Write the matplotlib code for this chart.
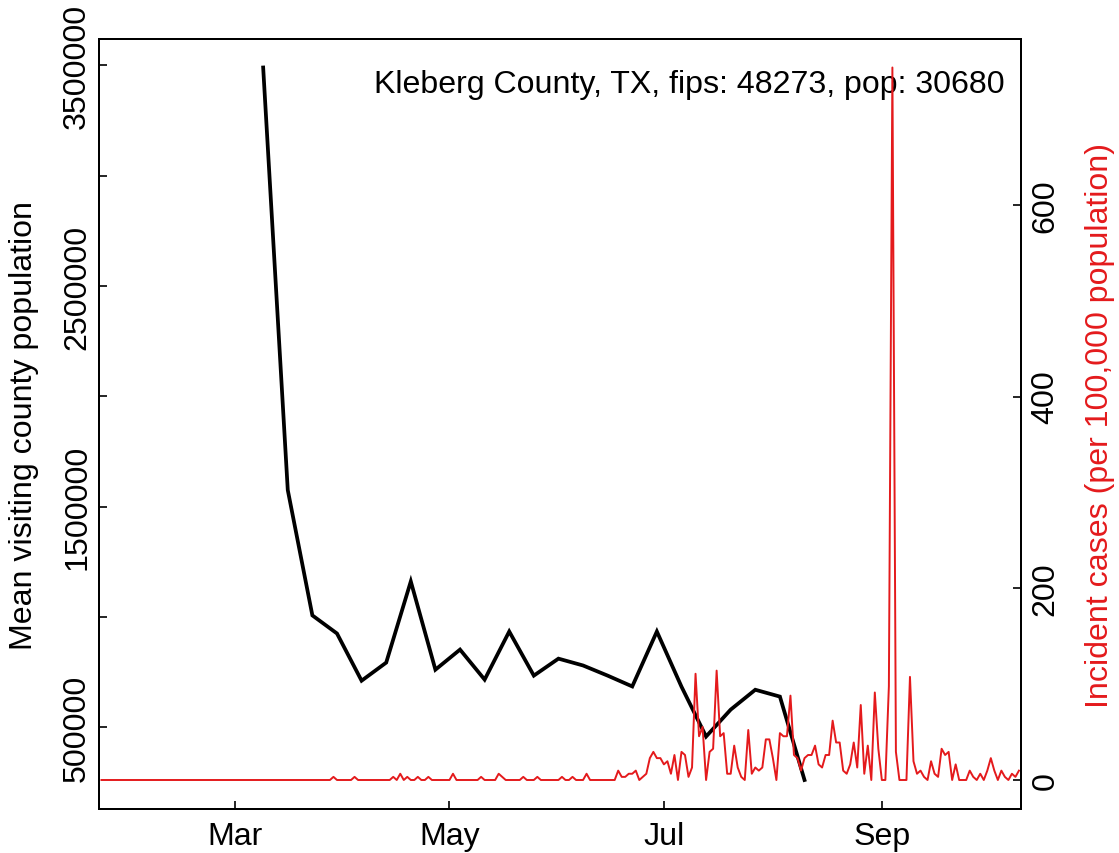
import pandas as pd
import matplotlib
matplotlib.use("Agg")
import matplotlib.pyplot as plt

plt.rcParams['font.family'] = ['Liberation Sans', 'DejaVu Sans']

county_label = "Kleberg County, TX, fips: 48273, pop: 30680"
county_pop = 30680

# weekly mean visiting county population (black line), starts 2020-03-09
visit_start = "2020-03-09"
visit_pop = [3490000, 1575000, 1007000, 925000, 711000, 793000, 1161000, 761000,
             852000, 716000, 934000, 734000, 811000, 780000, 734000, 685000,
             934000, 684000, 458000, 580000, 670000, 639000, 261000]

# daily new cases (red line), 2020-01-23 .. 2020-10-10
case_start = "2020-01-23"
cases_jan = [0, 0, 0, 0, 0, 0, 0, 0, 0]
cases_feb = [0, 0, 0, 0, 0, 0, 0, 0, 0, 0, 0, 0, 0, 0, 0, 0, 0, 0, 0, 0,
             0, 0, 0, 0, 0, 0, 0, 0, 0]
cases_mar = [0, 0, 0, 0, 0, 0, 0, 0, 0, 0, 0, 0, 0, 0, 0, 0, 0, 0, 0, 0,
             0, 0, 0, 0, 0, 0, 0, 0, 1, 0, 0]
cases_apr = [0, 0, 0, 1, 0, 0, 0, 0, 0, 0, 0, 0, 0, 0, 1, 0, 2, 0, 1, 0,
             0, 1, 0, 0, 1, 0, 0, 0, 0, 0]
cases_may = [0, 2, 0, 0, 0, 0, 0, 0, 0, 1, 0, 0, 0, 0, 2, 1, 0, 0, 0, 0,
             0, 1, 0, 0, 0, 1, 0, 0, 0, 0, 0]
cases_jun = [0, 1, 0, 0, 1, 0, 0, 0, 2, 0, 0, 0, 0, 0, 0, 0, 0, 3, 1, 1,
             2, 2, 3, 0, 1, 2, 7, 9, 7, 7]
cases_jul = [5, 6, 2, 8, 0, 9, 8, 1, 4, 34, 14, 17, 0, 9, 10, 35, 14, 15, 2, 2,
             11, 4, 1, 0, 16, 2, 4, 3, 4, 13, 13]
cases_aug = [7, 0, 15, 14, 14, 27, 8, 7, 3, 7, 8, 8, 11, 5, 4, 8, 8, 19, 12, 12,
             3, 2, 5, 12, 4, 24, 2, 11, 0, 28, 10]
cases_sep = [0, 0, 30, 228, 9, 0, 0, 0, 33, 6, 2, 3, 1, 0, 6, 2, 1, 10, 8, 9,
             0, 5, 0, 0, 0, 3, 1, 0, 2, 0]
cases_oct = [3, 7, 3, 0, 3, 1, 0, 2, 1, 3]

left_ticks = [500000, 1000000, 1500000, 2000000, 2500000, 3000000, 3500000]
left_labels = ["500000", "", "1500000", "", "2500000", "", "3500000"]
right_ticks = [0, 200, 400, 600]
x_ticks = ["2020-03-01", "2020-05-01", "2020-07-01", "2020-09-01"]
x_labels = ["Mar", "May", "Jul", "Sep"]

red = "#E41A1C"
fs = 23.1

cases = (cases_jan + cases_feb + cases_mar + cases_apr + cases_may + cases_jun
         + cases_jul + cases_aug + cases_sep + cases_oct)
case_dates = pd.date_range(case_start, periods=len(cases), freq="D")
incidence = pd.Series(cases, index=case_dates) * 100000 / county_pop
visit_dates = pd.date_range(visit_start, periods=len(visit_pop), freq="7D")


def r_range(vals):
    # base-R style 4% padding
    lo, hi = min(vals), max(vals)
    pad = 0.04 * (hi - lo)
    return lo - pad, hi + pad


W, H = 1119, 854
fig = plt.figure(figsize=(W / 100, H / 100), dpi=100)
ax = fig.add_axes([99 / W, (H - 809.5) / H, 921.7 / W, 769.5 / H])

ax.plot(visit_dates, visit_pop, color="black", lw=2.7, solid_joinstyle="miter")
ax.set_ylim(*r_range(visit_pop))
ax.set_yticks(left_ticks)
ax.set_yticklabels(left_labels)

mar1 = pd.Timestamp("2020-03-01")
ax.set_xlim(mar1 - pd.Timedelta(days=38.7), mar1 + pd.Timedelta(days=223.5))
ax.set_xticks(pd.to_datetime(x_ticks))
ax.set_xticklabels(x_labels)

ax.text(1005 / W, (H - 93) / H, county_label, transform=fig.transFigure,
        ha="right", va="baseline", fontsize=fs)

ax2 = ax.twinx()
ax2.plot(incidence.index, incidence.values, color=red, lw=1.4)
ax2.set_ylim(*r_range(incidence.values))
ax2.set_yticks(right_ticks)

for a in (ax, ax2):
    for s in a.spines.values():
        s.set_linewidth(1.4)
    a.tick_params(direction="in", length=5.8, width=1.2, labelsize=fs)

ax.tick_params(axis="x", pad=9)
ax.tick_params(axis="y", pad=5, labelrotation=90)
ax2.tick_params(axis="y", pad=7, labelrotation=90)
for t in ax.get_yticklabels() + ax2.get_yticklabels():
    t.set_va("center")

fig.text(24 / W, (H - 425) / H, "Mean visiting county population",
         rotation=90, ha="center", va="center", fontsize=fs)
fig.text(1100 / W, (H - 425) / H, "Incident cases (per 100,000 population)",
         rotation=90, ha="center", va="center", fontsize=fs, color=red)

fig.savefig("out.png", dpi=100)
